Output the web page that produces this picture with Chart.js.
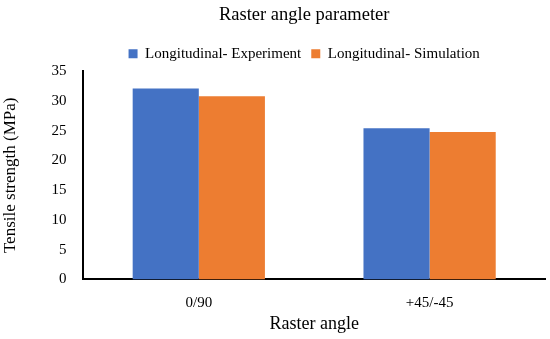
<!DOCTYPE html>
<html>
<head>
<meta charset="utf-8">
<script src="https://cdn.jsdelivr.net/npm/chart.js@4/dist/chart.umd.min.js"></script>
<style>
  html, body { margin: 0; padding: 0; background: #fff; }
  #wrap { width: 550px; height: 339px; }
</style>
</head>
<body>
<div id="wrap"><canvas id="chartRaster"></canvas></div>
<script>
// Categories and series
const categories = ['0/90', '+45/-45'];
const experiment = [32.1, 25.4];
const simulation = [30.8, 24.8];
const yTicks = [0, 5, 10, 15, 20, 25, 30, 35];

const serif = "'Liberation Serif', 'DejaVu Serif', serif";

// Nudge the title and legend a little left, like the original figure
const shiftHeader = {
    id: 'shiftHeader',
    afterLayout(chart) {
        [chart.titleBlock, chart.legend].forEach(box => {
            if (box) { box.left -= 10; box.right -= 10; }
        });
    }
};

const ctx = document.getElementById('chartRaster').getContext('2d');
new Chart(ctx, {
    type: 'bar',
    data: {
        labels: categories,
        datasets: [{
            label: 'Longitudinal- Experiment',
            data: experiment,
            backgroundColor: '#4472C4',
            borderWidth: 0
        }, {
            label: 'Longitudinal- Simulation',
            data: simulation,
            backgroundColor: '#ED7D31',
            borderWidth: 0
        }]
    },
    options: {
        responsive: true,
        maintainAspectRatio: false,
        animation: false,
        layout: { padding: { left: 0, right: 5, top: 2, bottom: 4 } },
        datasets: {
            bar: { barPercentage: 1, categoryPercentage: 0.573 }
        },
        plugins: {
            title: {
                display: true,
                fullSize: false,
                text: 'Raster angle parameter',
                color: '#000',
                font: { family: serif, size: 18.5, weight: 'normal' },
                padding: { top: 2, bottom: 10 }
            },
            legend: {
                fullSize: false,
                labels: {
                    color: '#000',
                    font: { family: serif, size: 15 },
                    boxWidth: 9,
                    boxHeight: 9,
                    padding: 10
                }
            },
            tooltip: { enabled: false }
        },
        scales: {
            x: {
                grid: { display: false },
                border: { color: '#000', width: 2 },
                ticks: { color: '#000', font: { family: serif, size: 15, lineHeight: 1 }, padding: 8 },
                title: {
                    display: true,
                    text: 'Raster angle',
                    color: '#000',
                    font: { family: serif, size: 18 },
                    padding: { top: -5, bottom: 0 }
                }
            },
            y: {
                min: 0,
                max: 35,
                afterBuildTicks: axis => { axis.ticks = yTicks.map(v => ({ value: v })); },
                grid: { display: false },
                border: { color: '#000', width: 2 },
                ticks: { color: '#000', font: { family: serif, size: 15 }, padding: 9 },
                title: {
                    display: true,
                    text: 'Tensile strength (MPa)',
                    color: '#000',
                    font: { family: serif, size: 17 },
                    padding: { top: 0, bottom: 22 }
                }
            }
        }
    },
    plugins: [shiftHeader]
});
</script>
</body>
</html>
